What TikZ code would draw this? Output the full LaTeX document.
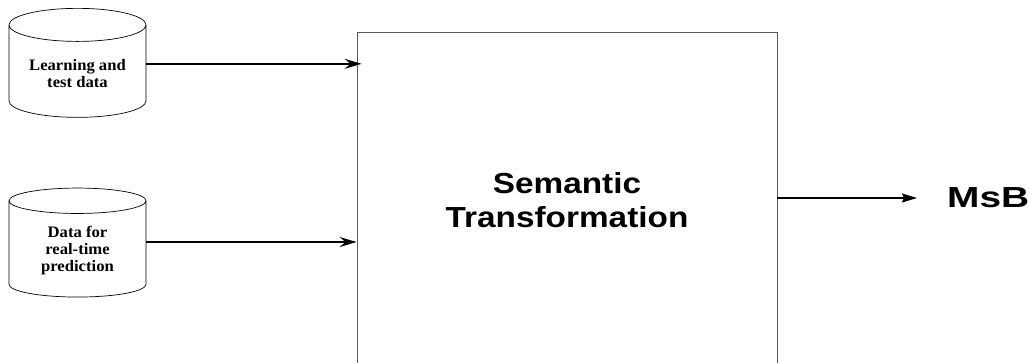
\documentclass[tikz,border=0pt]{standalone}
\usepackage{fontspec}
\setmainfont{Liberation Serif}[FakeStretch=1.04]
\newfontfamily\boxfont{Liberation Sans}[FakeStretch=1.15]
\newfontfamily\msbfont{Liberation Sans}[FakeStretch=1.34]
\usepackage{tikz}
\usetikzlibrary{arrows, arrows.meta}
\usetikzlibrary{shapes, positioning, calc}

\begin{document}
\begin{tikzpicture}[x=1pt,y=-1pt,auto,
  db node/.style={cylinder, shape border rotate=90, aspect=0.32, draw, line width=0.7pt,
    minimum width=137pt, minimum height=109pt, align=center,
    font=\bfseries\fontsize{16}{17}\selectfont},
  main node/.style={rectangle, draw=black!65, line width=0.8pt, minimum width=420pt,
    minimum height=336pt, align=center, font=\boxfont\bfseries\fontsize{29}{34}\selectfont},
  in edge/.style={-{Stealth[length=17pt,width=10pt,inset=6pt]}, line width=2pt},
  out edge/.style={-{Stealth[length=15pt,width=9pt,inset=2pt]}, line width=1.4pt}]
  \useasboundingbox (0,0) rectangle (1029,362);
  \clip (0,0) rectangle (1029,362);
  \node[db node, anchor=north] (learn) at (77.5,8) {Learning and\\test data};
  \node[db node, below=70pt of learn] (rt) {Data for\\real-time\\prediction};
  \node[main node] (sem) at (567,200) {Semantic\\Transformation};
  \coordinate (tip) at (917,198);
  \node[right=30pt of tip, inner sep=0pt, font=\msbfont\bfseries\fontsize{29}{34}\selectfont] (msb) {MsB};
  \draw[in edge, shorten >=-5pt] ([yshift=10pt]learn.east) -- ([yshift=10pt]learn.east -| sem.west);
  \draw[in edge] ([yshift=9pt]rt.east) -- ([yshift=9pt]rt.east -| sem.west);
  \draw[out edge] (sem.east |- tip) -- (tip);
\end{tikzpicture}
\end{document}
